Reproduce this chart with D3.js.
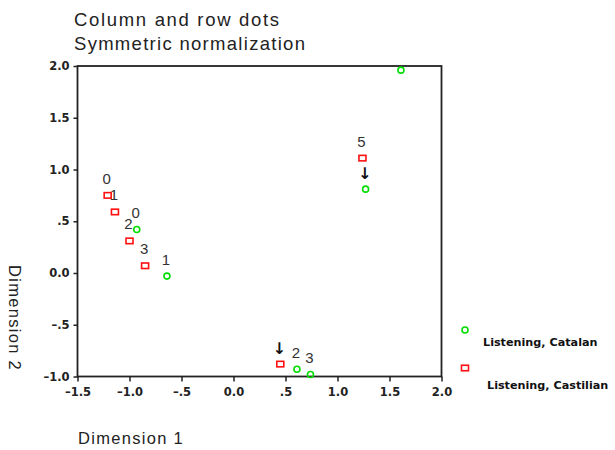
<!DOCTYPE html>
<html>
<head>
<meta charset="utf-8">
<script src="https://cdn.jsdelivr.net/npm/d3@7"></script>
<style>
  body { margin: 0; background: #fff; }
  svg { display: block; }
</style>
</head>
<body>
<div id="chart"></div>
<script>
// series and their points (dimension 1, dimension 2, point label)
const seriesNames = ['Listening, Catalan', 'Listening, Castilian'];
const catalanX = [-0.93, -0.64, 0.61, 0.74, 1.27, 1.61];
const catalanY = [0.42, -0.03, -0.93, -0.98, 0.81, 1.96];
const catalanLabels = ['0', '1', '2', '3', '\u2193', ''];
const castilianX = [-1.21, -1.14, -1.00, -0.85, 0.45, 1.24];
const castilianY = [0.75, 0.59, 0.31, 0.07, -0.88, 1.11];
const castilianLabels = ['0', '1', '2', '3', '\u2193', '5'];
const xTicks = [-1.5, -1.0, -0.5, 0.0, 0.5, 1.0, 1.5, 2.0];
const yTicks = [-1.0, -0.5, 0.0, 0.5, 1.0, 1.5, 2.0];

function spssFormat(v) {
    // SPSS style: "0.0", ".5", "-.5", "-1.0"
    let s = Math.abs(v) < 1e-9 ? '0.0' : d3.format('.1f')(Math.abs(v));
    if (Math.abs(v) > 0 && Math.abs(v) < 1) s = s.replace(/^0/, '');
    return (v < 0 ? '\u2013' : '') + s;
}

const svg = d3.select('#chart').append('svg').attr('width', 615).attr('height', 450);

const x = d3.scaleLinear().domain([-1.5, 2.0]).range([77.5, 441.5]);
const y = d3.scaleLinear().domain([-1.0, 2.0]).range([376.5, 66]);

const green = '#00dd00', red = '#ff1010';
const tickFont = 'DejaVu Sans, sans-serif';
const plainFont = 'Liberation Sans, Arial, sans-serif';

// title
svg.append('text').attr('x', 74).attr('y', 26)
    .attr('font-family', plainFont).attr('font-size', 18.5).attr('fill', '#222')
    .attr('textLength', 205).attr('lengthAdjust', 'spacing')
    .text('Column and row dots');
svg.append('text').attr('x', 74).attr('y', 50)
    .attr('font-family', plainFont).attr('font-size', 18.5).attr('fill', '#222')
    .attr('textLength', 231).attr('lengthAdjust', 'spacing')
    .text('Symmetric normalization');

// axes
const xAxis = svg.append('g')
    .attr('transform', `translate(0,${y(-1.0)})`)
    .call(d3.axisBottom(x).tickValues(xTicks).tickFormat(spssFormat).tickSize(5).tickPadding(6).tickSizeOuter(0));
const yAxis = svg.append('g')
    .attr('transform', `translate(${x(-1.5)},0)`)
    .call(d3.axisLeft(y).tickValues(yTicks).tickFormat(spssFormat).tickSize(4).tickPadding(4).tickSizeOuter(0));

[xAxis, yAxis].forEach(a => {
    a.select('.domain').remove();
    a.selectAll('line').attr('stroke', '#222').attr('stroke-width', 1.5);
    a.selectAll('text').attr('font-family', tickFont).attr('font-weight', 'bold')
        .attr('font-size', 11.5).attr('fill', '#222');
});

// frame
svg.append('rect')
    .attr('x', x(-1.5)).attr('y', y(2.0))
    .attr('width', x(2.0) - x(-1.5)).attr('height', y(-1.0) - y(2.0))
    .attr('fill', 'none').attr('stroke', '#222').attr('stroke-width', 1.8);

// axis titles
svg.append('text').attr('x', 78).attr('y', 444)
    .attr('font-family', plainFont).attr('font-size', 16.5)
    .attr('letter-spacing', 1.3).attr('fill', '#222')
    .text('Dimension 1');
svg.append('text')
    .attr('transform', 'translate(9,265) rotate(90)')
    .attr('font-family', plainFont).attr('font-size', 16.5)
    .attr('letter-spacing', 1.3).attr('fill', '#222')
    .text('Dimension 2');

const catalan = catalanX.map((v, i) => ({x: v, y: catalanY[i], label: catalanLabels[i]}));
const castilian = castilianX.map((v, i) => ({x: v, y: castilianY[i], label: castilianLabels[i]}));

// point labels
function drawLabels(data) {
    svg.append('g').selectAll('text').data(data.filter(d => d.label)).join('text')
        .attr('x', d => x(d.x) - 1)
        .attr('y', d => y(d.y) - (d.label === '\u2193' ? 10.5 : 11.5))
        .attr('text-anchor', 'middle')
        .attr('font-family', d => d.label === '\u2193' ? tickFont : plainFont)
        .attr('font-weight', d => d.label === '\u2193' ? 'bold' : 'normal')
        .attr('font-size', d => d.label === '\u2193' ? 16 : 15)
        .attr('fill', d => d.label === '\u2193' ? '#111' : '#333')
        .text(d => d.label);
}
drawLabels(catalan);
drawLabels(castilian);

// markers
svg.append('g').selectAll('circle').data(catalan).join('circle')
    .attr('cx', d => x(d.x)).attr('cy', d => y(d.y)).attr('r', 3)
    .attr('fill', 'none').attr('stroke', green).attr('stroke-width', 1.6);
svg.append('g').selectAll('rect').data(castilian).join('rect')
    .attr('x', d => x(d.x) - 3.5).attr('y', d => y(d.y) - 2.75)
    .attr('width', 7).attr('height', 5.5)
    .attr('fill', 'none').attr('stroke', red).attr('stroke-width', 1.6);

// legend
const legend = svg.append('g');
legend.append('circle').attr('cx', 465).attr('cy', 330).attr('r', 3)
    .attr('fill', 'none').attr('stroke', green).attr('stroke-width', 1.6);
legend.append('text').attr('x', 483).attr('y', 346)
    .attr('font-family', tickFont).attr('font-weight', 'bold').attr('font-size', 11.2).attr('fill', '#111')
    .text(seriesNames[0]);
legend.append('rect').attr('x', 465 - 3.5).attr('y', 368 - 2.75).attr('width', 7).attr('height', 5.5)
    .attr('fill', 'none').attr('stroke', red).attr('stroke-width', 1.6);
legend.append('text').attr('x', 487).attr('y', 389)
    .attr('font-family', tickFont).attr('font-weight', 'bold').attr('font-size', 11.2).attr('fill', '#111')
    .text(seriesNames[1]);
</script>
</body>
</html>
